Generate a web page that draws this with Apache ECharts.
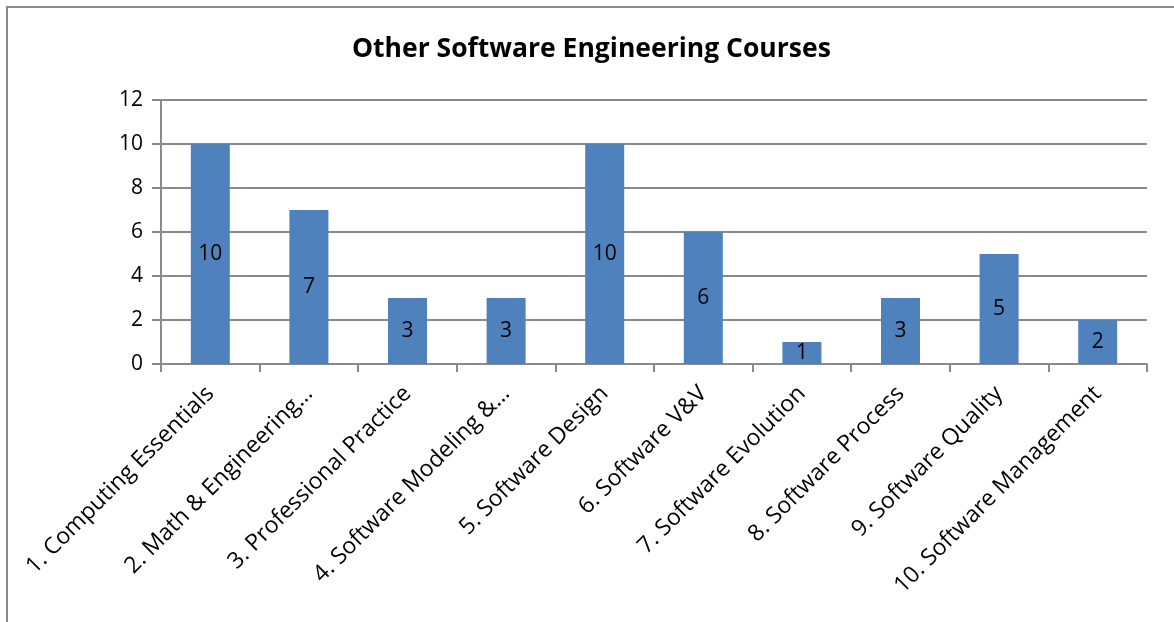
<!DOCTYPE html>
<html>
<head>
<meta charset="utf-8">
<script src="https://cdn.jsdelivr.net/npm/echarts@6/dist/echarts.min.js"></script>
<style>
  html, body { margin: 0; padding: 0; background: #fff; }
  #chart { width: 1174px; height: 622px; }
</style>
</head>
<body>
<div id="chart"></div>
<script>
const courses = [
  "1. Computing Essentials",
  "2. Math & Engineering…",
  "3. Professional Practice",
  "4. Software Modeling &…",
  "5. Software Design",
  "6. Software V&V",
  "7. Software Evolution",
  "8. Software Process",
  "9. Software Quality",
  "10. Software Management",
];
const counts = [10, 7, 3, 3, 10, 6, 1, 3, 5, 2];
const yTicks = { min: 0, max: 12, interval: 2 };

const font = "'Open Sans', sans-serif";
const chart = echarts.init(document.getElementById("chart"));
chart.setOption({
  animation: false,
  title: {
    text: "Other Software Engineering Courses",
    left: 347,
    top: 31,
    textStyle: { fontFamily: font, fontWeight: "bold", fontSize: 26.5, color: "#000" },
  },
  graphic: [
    {
      type: "rect",
      shape: { x: 7, y: 7, width: 1250, height: 700 },
      style: { fill: "none", stroke: "#8a8a8a", lineWidth: 2 },
      silent: true,
    },
  ],
  grid: { left: 161, right: 27, top: 100, bottom: 258 },
  xAxis: {
    type: "category",
    data: courses,
    axisLine: { lineStyle: { color: "#8a8a8a", width: 2 } },
    axisTick: { show: true, length: 8, lineStyle: { color: "#8a8a8a", width: 2 } },
    axisLabel: {
      interval: 0,
      rotate: 45,
      margin: 26,
      fontFamily: font,
      fontSize: 23,
      color: "#000",
    },
  },
  yAxis: {
    type: "value",
    min: yTicks.min,
    max: yTicks.max,
    interval: yTicks.interval,
    axisLine: { show: true, lineStyle: { color: "#8a8a8a", width: 2 } },
    axisTick: { show: true, length: 9, lineStyle: { color: "#8a8a8a", width: 2 } },
    splitLine: { lineStyle: { color: "#8a8a8a", width: 2 } },
    axisLabel: { margin: 18, fontFamily: font, fontSize: 21, color: "#000" },
  },
  series: [
    {
      type: "bar",
      data: counts,
      barWidth: 39,
      itemStyle: { color: "#4f81bd" },
      label: {
        show: true,
        position: "inside",
        fontFamily: font,
        fontSize: 21,
        color: "#000",
      },
    },
  ],
});
</script>
</body>
</html>
